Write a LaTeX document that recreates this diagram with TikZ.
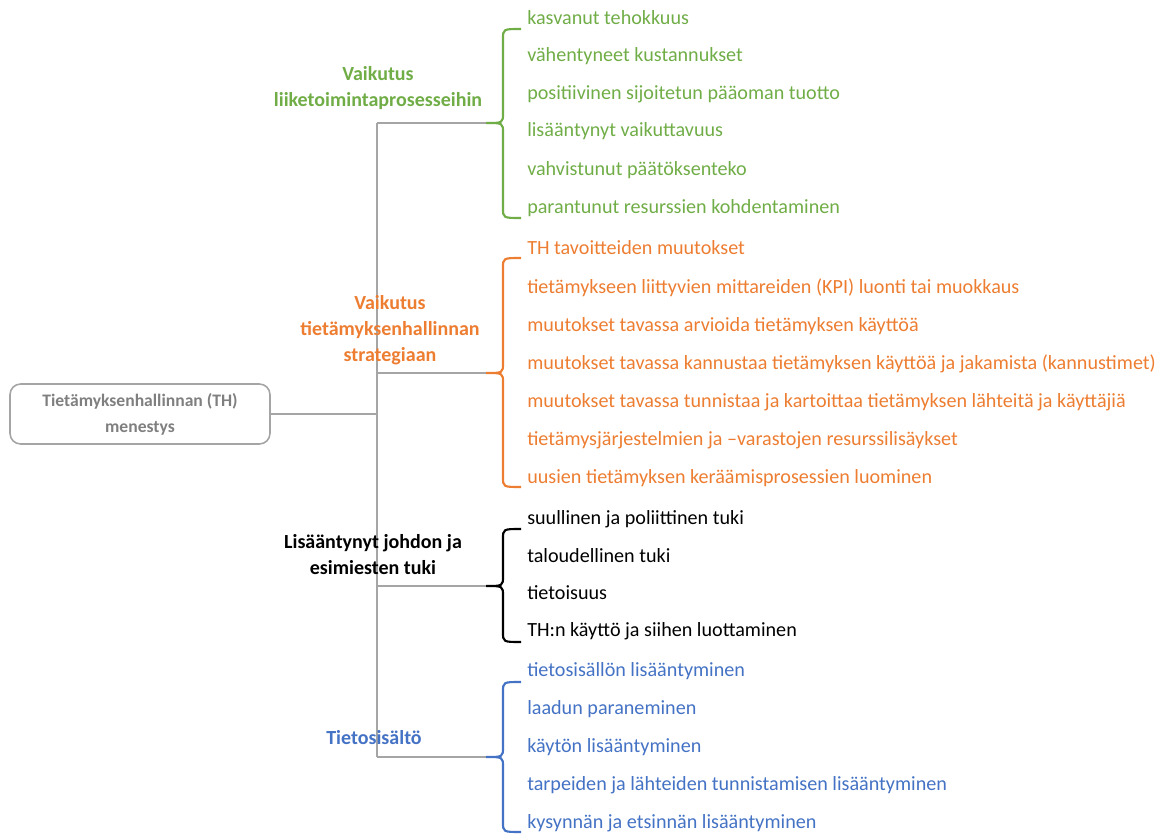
\documentclass[tikz,border=0pt]{standalone}
\usepackage{fontspec}
\setmainfont{Carlito}
\definecolor{cgreen}{HTML}{70AD47}
\definecolor{corange}{HTML}{ED7D31}
\definecolor{cblue}{HTML}{4472C4}
\definecolor{cline}{HTML}{A5A5A5}
\definecolor{ctext}{HTML}{7F7F7F}
\newcommand\mybrace[4]{%
  \draw[#1,line width=1.6pt] (521,#2) .. controls (503,#2) .. (503,{#2+10}) -- (503,{#3-10}) .. controls (503,#3) .. (486,#3)
    .. controls (503,#3) .. (503,{#3+10}) -- (503,{#4-10}) .. controls (503,#4) .. (521,#4);}
\begin{document}
\begin{tikzpicture}[x=0.75pt,y=-0.75pt,
  item/.style={anchor=west,inner sep=0pt,font=\fontsize{15.1}{18}\selectfont},
  lab/.style={align=center,inner sep=0pt,font=\fontsize{15}{19.5}\selectfont\bfseries},
  conn/.style={cline,line width=1.5pt}]
\useasboundingbox (0,0) rectangle (1163,834);
\node[draw=cline,line width=1.2pt,rounded corners=8pt,minimum width=260*0.75pt,minimum height=60*0.75pt,
  align=center,text=ctext,font=\fontsize{13.2}{19.5}\selectfont\bfseries] (root) at (140,414)
  {Tietämyksenhallinnan (TH)\\menestys};
\coordinate (vtop) at (377,123);
\coordinate (vbot) at (377,757);
\coordinate (vmid) at (377,414);
\coordinate (g) at (486,123);
\coordinate (o) at (486,373);
\coordinate (k) at (486,586);
\coordinate (b) at (486,757);
\draw[conn] (vtop) -- (vbot);
\draw[cline,line width=2.2pt] (root.east) -- (vmid);
\draw[conn] (vtop) -- (g);
\draw[conn] (377,373) -- (o);
\draw[conn] (377,586) -- (k);
\draw[conn] (vbot) -- (b);
\mybrace{cgreen}{29}{123}{218}
\mybrace{corange}{258}{373}{487}
\mybrace{black}{529}{586}{642}
\mybrace{cblue}{682}{757}{832}
\node[lab,text=cgreen] (lg) at (378,88) {Vaikutus\\liiketoimintaprosesseihin};
\node[lab,text=corange] (lo) at (390,330) {Vaikutus\\tietämyksenhallinnan\\strategiaan};
\node[lab,text=black] (lk) at (373,555) {Lisääntynyt johdon ja\\esimiesten tuki};
\node[lab,text=cblue] (lb) at (374,738) {Tietosisältö};
\begin{scope}[every node/.style={item,text=cgreen}]
\node (g1) at (527,18) {kasvanut tehokkuus};
\node (g2) at (527,56) {vähentyneet kustannukset};
\node (g3) at (527,94) {positiivinen sijoitetun pääoman tuotto};
\node (g4) at (527,131) {lisääntynyt vaikuttavuus};
\node (g5) at (527,170) {vahvistunut päätöksenteko};
\node (g6) at (527,208) {parantunut resurssien kohdentaminen};
\end{scope}
\begin{scope}[every node/.style={item,text=corange}]
\node (o1) at (527,248) {TH tavoitteiden muutokset};
\node (o2) at (527,288) {tietämykseen liittyvien mittareiden (KPI) luonti tai muokkaus};
\node (o3) at (527,326) {muutokset tavassa arvioida tietämyksen käyttöä};
\node (o4) at (527,364) {muutokset tavassa kannustaa tietämyksen käyttöä ja jakamista (kannustimet)};
\node (o5) at (527,402) {muutokset tavassa tunnistaa ja kartoittaa tietämyksen lähteitä ja käyttäjiä};
\node (o6) at (527,440) {tietämysjärjestelmien ja –varastojen resurssilisäykset};
\node (o7) at (527,478) {uusien tietämyksen keräämisprosessien luominen};
\end{scope}
\begin{scope}[every node/.style={item,text=black}]
\node (k1) at (527,519) {suullinen ja poliittinen tuki};
\node (k2) at (527,556) {taloudellinen tuki};
\node (k3) at (527,593) {tietoisuus};
\node (k4) at (527,631) {TH:n käyttö ja siihen luottaminen};
\end{scope}
\begin{scope}[every node/.style={item,text=cblue}]
\node (b1) at (527,671) {tietosisällön lisääntyminen};
\node (b2) at (527,709) {laadun paraneminen};
\node (b3) at (527,747) {käytön lisääntyminen};
\node (b4) at (527,785) {tarpeiden ja lähteiden tunnistamisen lisääntyminen};
\node (b5) at (527,823) {kysynnän ja etsinnän lisääntyminen};
\end{scope}
\end{tikzpicture}
\end{document}
